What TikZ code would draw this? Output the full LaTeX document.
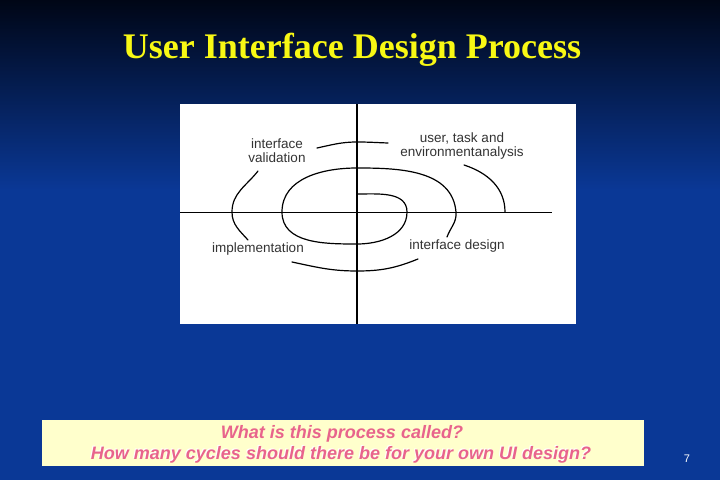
\documentclass[tikz,border=0pt]{standalone}
\usepackage{fontspec}
\setmainfont{Liberation Serif}
\setsansfont{Liberation Sans}
\usepackage{xcolor}
\usetikzlibrary{positioning}
\definecolor{bgtop}{RGB}{0,6,22}
\definecolor{bgbot}{RGB}{10,56,150}
\definecolor{titleyellow}{RGB}{248,248,20}
\definecolor{askpink}{RGB}{232,100,140}
\definecolor{notecream}{RGB}{255,255,204}
\tikzset{
  axis/.style={draw=black, line width=0.9pt},
  turn/.style={draw=black, line width=1.2pt, line cap=round},
  phase/.style={font=\sffamily\fontsize{13.5}{14}\selectfont, text=black!80, align=center, inner sep=0pt},
  ask/.style={font=\sffamily\bfseries\itshape\fontsize{18}{20}\selectfont, inner sep=0pt}
}
\begin{document}
\begin{tikzpicture}[x=1pt, y=1pt]
                \useasboundingbox (0,0) rectangle (720,480);
                \shade[top color=bgtop, bottom color=bgbot] (0,290) rectangle (720,480);
                \fill[bgbot] (0,0) rectangle (720,290.5);
                \node[font=\bfseries\fontsize{36}{40}\selectfont, text=titleyellow] (title) at (352,430) {User Interface Design Process};
                \filldraw[fill=white, draw=none] (180,156) rectangle (576,376);
                \draw[axis, line width=1.6pt] (357,156) -- (357,376);
                \draw[axis] (180,268) -- (552,268);
                \draw[turn] (357,286) to[out=0,in=90] (407,268) to[out=-90,in=0] (357,236)
                    to[out=180,in=-90] (282,268) to[out=90,in=180] (357,312)
                    to[out=0,in=95] (456,268) to[out=-85,in=70] (447,243);
                \draw[turn] (292,218) to[out=-12,in=180] (357,209) to[out=0,in=-158] (418,221);
                \draw[turn] (258,309) to[out=-128,in=90] (232,268) to[out=-90,in=132] (248,240);
                \draw[turn] (317,332) to[out=12,in=180] (357,338) to[out=0,in=178] (388,337);
                \draw[turn] (464,315) to[out=-18,in=90] (505,268);
                \node[phase] (validation) at (277,329) {interface\\validation};
                \node[phase] (analysis) at (462,334) {user, task and\\environmentanalysis};
                \node[phase] (implementation) at (258,231) {implementation};
                \node[phase] (design) at (457,234) {interface design};
                \filldraw[fill=notecream, draw=none] (42,14) rectangle (644,60);
                \node[ask, text=askpink] (called) at (342,46) {What is this process called?};
                \node[ask, text=white] (cyclesglow) at (340,26) {How many cycles should there be for your own UI design?};
                \node[ask, text=askpink] (cycles) at (341,25) {How many cycles should there be for your own UI design?};
                \node[font=\sffamily\fontsize{11}{12}\selectfont, text=white] (page) at (687,21) {7};
            \end{tikzpicture}
\end{document}
